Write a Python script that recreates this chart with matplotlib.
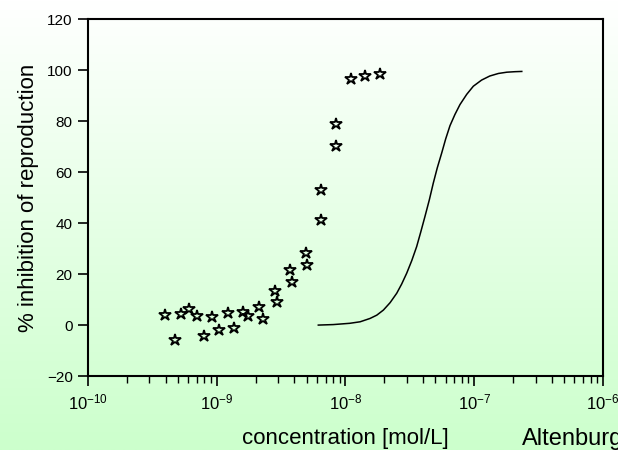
import numpy as np
import matplotlib
matplotlib.use("Agg")
from matplotlib import pyplot as plt
from matplotlib.colors import LinearSegmentedColormap
from matplotlib.ticker import LogLocator, NullFormatter

plt.rcParams['font.family'] = ['Liberation Sans', 'DejaVu Sans']
plt.rcParams['mathtext.fontset'] = 'custom'
plt.rcParams['mathtext.rm'] = 'Liberation Sans'

# measured data (stars)
conc = [3.96e-10, 4.74e-10, 5.25e-10, 6.12e-10, 6.98e-10, 7.96e-10, 9.19e-10,
        1.04e-9, 1.22e-9, 1.35e-9, 1.60e-9, 1.76e-9, 2.13e-9, 2.29e-9,
        2.82e-9, 2.95e-9, 3.73e-9, 3.84e-9, 4.91e-9, 5.02e-9,
        6.45e-9, 6.45e-9, 8.44e-9, 8.44e-9, 1.10e-8, 1.42e-8, 1.85e-8]
inhib = [3.9, -6.0, 4.3, 6.2, 3.5, -4.2, 3.1,
         -2.0, 4.8, -1.2, 5.2, 3.4, 7.2, 2.4,
         13.5, 9.1, 21.5, 16.8, 28.5, 23.7,
         52.9, 41.1, 79.1, 70.2, 96.5, 98.0, 98.7]

# fitted curve
curve_x = [6.15e-9, 8.04e-9, 1.08e-8, 1.30e-8, 1.55e-8, 1.75e-8, 1.97e-8,
           2.22e-8, 2.50e-8, 2.73e-8, 2.99e-8, 3.27e-8, 3.57e-8, 3.84e-8,
           4.14e-8, 4.48e-8, 4.81e-8, 5.16e-8, 5.59e-8, 6.00e-8, 6.48e-8,
           7.08e-8, 7.75e-8, 8.74e-8, 9.84e-8, 1.14e-7, 1.32e-7, 1.54e-7,
           1.79e-7, 2.07e-7, 2.34e-7]
curve_y = [0.0, 0.2, 0.7, 1.3, 2.6, 3.9, 5.9,
           8.8, 12.5, 16.1, 20.4, 25.3, 30.8, 36.5,
           42.6, 49.2, 55.8, 61.7, 67.6, 73.1, 78.3,
           82.7, 86.6, 90.6, 93.8, 96.2, 97.8, 98.8,
           99.3, 99.5, 99.6]

yticks = [-20, 0, 20, 40, 60, 80, 100, 120]

fig = plt.figure(figsize=(6.18, 4.5), dpi=100)

# background gradient, white on top to light green at bottom
bg = fig.add_axes([0, 0, 1, 1], zorder=-10)
cmap = LinearSegmentedColormap.from_list('bg', ['#ffffff', '#ccffcc'])
bg.imshow(np.linspace(0, 1, 256).reshape(-1, 1), aspect='auto', cmap=cmap,
          extent=[0, 1, 0, 1])
bg.axis('off')

ax = fig.add_axes([0.1424, 0.1644, 0.8333, 0.7923])
ax.patch.set_alpha(0)

ax.plot(conc, inhib, linestyle='none', marker='*', markersize=9,
        markerfacecolor='none', markeredgecolor='black', markeredgewidth=1.3)
ax.plot(curve_x, curve_y, color='black', linewidth=1.1)

ax.set_xscale('log')
ax.set_xlim(1e-10, 1e-6)
ax.set_ylim(-20, 120)
ax.set_yticks(yticks)
ax.xaxis.set_major_locator(LogLocator(base=10, numticks=10))
ax.xaxis.set_minor_locator(LogLocator(base=10, subs=np.arange(2, 10), numticks=50))
ax.xaxis.set_minor_formatter(NullFormatter())

for s in ax.spines.values():
    s.set_linewidth(1.5)
ax.tick_params(axis='both', which='major', direction='out', length=7, width=1.2,
               labelsize=11, pad=4)
ax.tick_params(axis='x', which='major', labelsize=12, pad=5)
ax.tick_params(axis='x', which='minor', direction='out', length=5, width=1.0)

ax.set_ylabel('% inhibition of reproduction', fontsize=16, labelpad=6)
ax.set_xlabel('concentration [mol/L]', fontsize=16, labelpad=11)

fig.text(522 / 618, 1 - 445 / 450, 'Altenburg', fontsize=17, ha='left', va='baseline')

fig.savefig('out.png', dpi=100)
